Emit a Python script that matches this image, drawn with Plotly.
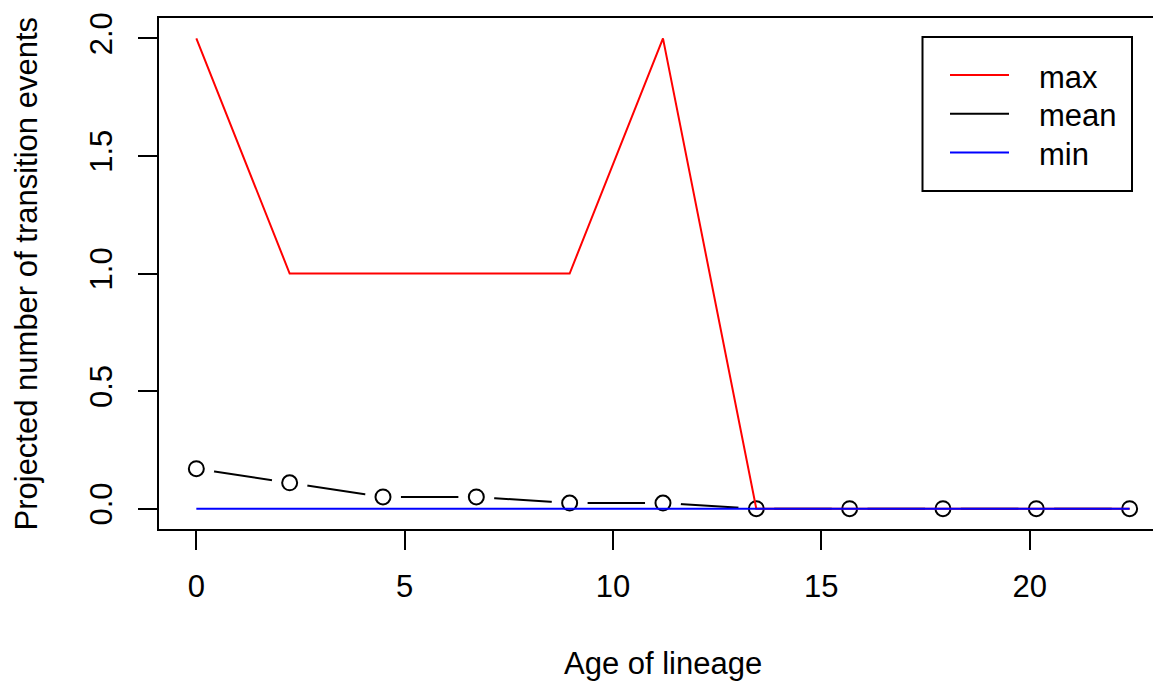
import plotly.graph_objects as go

# Data
age = [0, 2.24, 4.48, 6.72, 8.96, 11.2, 13.44, 15.68, 17.92, 20.16, 22.4]
max_events = [2, 1, 1, 1, 1, 2, 0, 0, 0, 0, 0]
mean_events = [0.17, 0.11, 0.05, 0.05, 0.024, 0.024, 0, 0, 0, 0, 0]
min_events = [0, 0, 0, 0, 0, 0, 0, 0, 0, 0, 0]
x_ticks = [0, 5, 10, 15, 20]
y_ticks = [0, 0.5, 1.0, 1.5, 2.0]
y_tick_labels = ["0.0", "0.5", "1.0", "1.5", "2.0"]
legend_labels = ["max", "mean", "min"]
legend_colors = ["#FF0000", "#000000", "#0000FF"]
x_title = "Age of lineage"
y_title = "Projected number of transition events"

FONT = "Liberation Sans, Arial, Helvetica, sans-serif"
FS = 31
OFF = 8  # default page body margin
W, H = 1161 - OFF, 683 - OFF
# target plot box in page pixels: left 159, top 18, bottom 529, right 1161
L, T = 159 - OFF, 18 - OFF
B = H - (529 - OFF)
R = 0

fig = go.Figure()

# mean: lines with gaps at the points (R type = "b")
fig.add_trace(go.Scatter(x=age, y=mean_events, mode="lines",
                         line=dict(color="black", width=2), showlegend=False,
                         hoverinfo="skip"))
fig.add_trace(go.Scatter(x=age, y=mean_events, mode="markers",
                         marker=dict(color="white", size=36, line=dict(width=0)),
                         showlegend=False, hoverinfo="skip"))
fig.add_trace(go.Scatter(x=age, y=mean_events, mode="markers",
                         marker=dict(symbol="circle-open", color="black", size=15,
                                     line=dict(width=2)),
                         name="mean", showlegend=False))
fig.add_trace(go.Scatter(x=age, y=max_events, mode="lines",
                         line=dict(color="#FF0000", width=2), name="max",
                         showlegend=False))
fig.add_trace(go.Scatter(x=age, y=min_events, mode="lines",
                         line=dict(color="#0000FF", width=2), name="min",
                         showlegend=False))

pw = W - L - R
ph = H - T - B


def px(x):
    # page pixel -> paper fraction
    return (x - OFF - L) / pw


def py(y):
    return (H - B - (y - OFF)) / ph


shapes = []
annotations = []
# legend box
shapes.append(dict(type="rect", xref="paper", yref="paper",
                   x0=px(922.5), x1=px(1132), y0=py(191), y1=py(37),
                   line=dict(color="black", width=2), fillcolor="white",
                   layer="above"))
for i, (lab, col) in enumerate(zip(legend_labels, legend_colors)):
    yy = 75 + i * 38.8
    shapes.append(dict(type="line", xref="paper", yref="paper",
                       x0=px(950), x1=px(1009), y0=py(yy), y1=py(yy),
                       line=dict(color=col, width=2), layer="above"))
    annotations.append(dict(xref="paper", yref="paper", x=px(1037), y=py(yy + 2),
                            text=lab, showarrow=False, xanchor="left",
                            yanchor="middle",
                            font=dict(family=FONT, size=FS, color="black")))

# axis titles
annotations.append(dict(xref="paper", yref="paper", x=px(663), y=py(663),
                        text=x_title, showarrow=False, xanchor="center",
                        yanchor="middle",
                        font=dict(family=FONT, size=FS, color="black")))
annotations.append(dict(xref="paper", yref="paper", x=px(26), y=py(273.5),
                        text=y_title, showarrow=False, textangle=-90,
                        xanchor="center", yanchor="middle",
                        font=dict(family=FONT, size=FS, color="black")))

fig.update_layout(
    width=W, height=H,
    margin=dict(l=L, r=R, t=T, b=B, autoexpand=False),
    paper_bgcolor="white", plot_bgcolor="white",
    font=dict(family=FONT, size=FS, color="black"),
    shapes=shapes, annotations=annotations,
    showlegend=False,
)
fig.update_xaxes(
    range=[-0.896, -0.896 + pw / 41.665],
    tickvals=x_ticks, ticks="outside", ticklen=19, tickwidth=2,
    tickcolor="black", showline=True, linecolor="black", linewidth=2,
    mirror=True, showgrid=False, zeroline=False, automargin=False,
    ticklabelstandoff=10,
)
fig.update_yaxes(
    range=[-0.0864, 2.0864],
    tickvals=y_ticks, ticktext=y_tick_labels, tickangle=-90,
    ticks="outside", ticklen=19, tickwidth=2, tickcolor="black",
    showline=True, linecolor="black", linewidth=2, mirror=False,
    showgrid=False, zeroline=False, automargin=False,
    ticklabelstandoff=14,
)

fig.write_html("out.html")
